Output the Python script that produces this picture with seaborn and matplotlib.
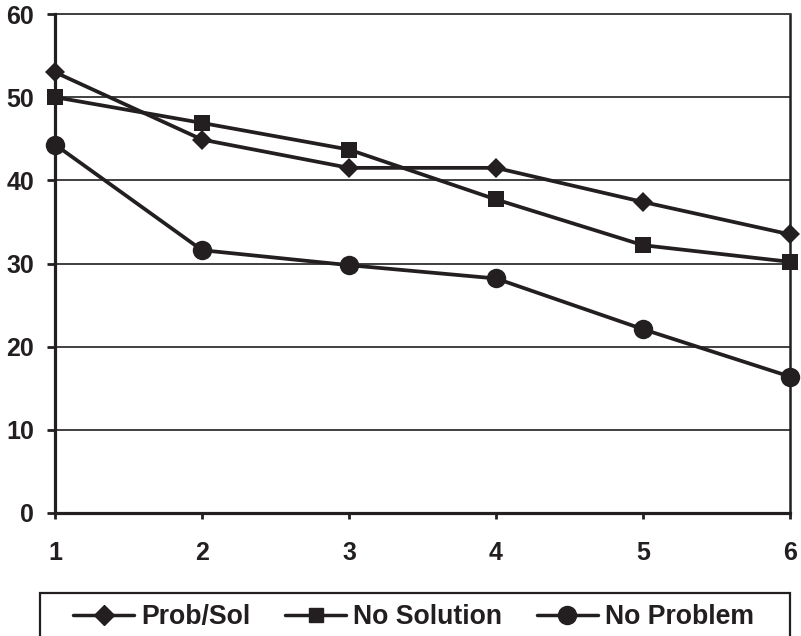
import matplotlib
matplotlib.use("Agg")
import matplotlib.pyplot as plt
import seaborn as sns
import pandas as pd
from matplotlib.lines import Line2D
from matplotlib.patches import Rectangle

sessions = [1, 2, 3, 4, 5, 6]
prob_sol = [53.0, 44.9, 41.5, 41.5, 37.4, 33.5]
no_solution = [50.0, 46.9, 43.7, 37.7, 32.2, 30.2]
no_problem = [44.3, 31.6, 29.8, 28.2, 22.1, 16.4]
series_names = ["Prob/Sol", "No Solution", "No Problem"]
y_ticks = [0, 10, 20, 30, 40, 50, 60]

ink = "#231f20"
grid_ink = "#404040"

df = pd.DataFrame({
    "session": sessions * 3,
    "value": prob_sol + no_solution + no_problem,
    "group": [series_names[0]] * 6 + [series_names[1]] * 6 + [series_names[2]] * 6,
})

sns.set_style("white")
plt.rcParams["font.family"] = ["Liberation Sans", "DejaVu Sans"]

W, H = 801, 636
fig = plt.figure(figsize=(W / 100, H / 100), dpi=100)
ax = fig.add_axes([55 / W, 1 - 513 / H, (790 - 55) / W, (513 - 14) / H])

sns.lineplot(
    data=df, x="session", y="value", hue="group", style="group",
    hue_order=series_names, style_order=series_names,
    palette=[ink, ink, ink],
    markers={"Prob/Sol": "D", "No Solution": "s", "No Problem": "o"},
    dashes=False, linewidth=2.7, markeredgewidth=0, ax=ax, legend=False,
)
for line, ms in zip(ax.get_lines(), [10.5, 11.5, 14]):
    line.set_markersize(ms)
    line.set_markeredgecolor(ink)
    line.set_clip_on(False)
    line.set_zorder(5)

ax.set_xlim(1, 6)
ax.set_ylim(0, 60)
ax.set_yticks(y_ticks)
ax.set_xticks(sessions)
ax.set_xlabel("")
ax.set_ylabel("")

ax.yaxis.grid(True, color=grid_ink, linewidth=1.4)
ax.set_axisbelow(True)
for side in ["left", "bottom"]:
    ax.spines[side].set_color(ink)
    ax.spines[side].set_linewidth(2.3)
    ax.spines[side].set_zorder(4)
ax.spines["right"].set_color(ink)
ax.spines["right"].set_linewidth(1.8)
ax.spines["top"].set_color(grid_ink)
ax.spines["top"].set_linewidth(1.4)

ax.tick_params(axis="y", direction="out", length=6, width=2, color=ink,
               left=True, pad=9)
ax.tick_params(axis="x", direction="out", length=4.5, width=2, color=ink,
               bottom=True, pad=16)
for lab in ax.get_xticklabels() + ax.get_yticklabels():
    lab.set_fontsize(18)
    lab.set_fontweight("bold")
    lab.set_color(ink)

# legend frame runs past the bottom edge of the figure
fig.patches.append(Rectangle((40 / W, -0.05), (790 - 40) / W, 0.05 + 1 - 593 / H,
                             transform=fig.transFigure, fill=False,
                             edgecolor=ink, linewidth=1.6))

handles = [
    Line2D([], [], color=ink, lw=2.5, marker="D", ms=10, mec=ink),
    Line2D([], [], color=ink, lw=2.5, marker="s", ms=10, mec=ink),
    Line2D([], [], color=ink, lw=2.5, marker="o", ms=13, mec=ink),
]
leg = fig.legend(
    handles, series_names, loc="center left",
    bbox_to_anchor=(73 / W, 1 - 617 / H), ncol=3,
    frameon=False, prop={"weight": "bold", "size": 19.2},
    handlelength=2.3, handletextpad=0.25, columnspacing=1.3,
    borderpad=0, borderaxespad=0,
)
for t in leg.get_texts():
    t.set_color(ink)

fig.savefig("out.png", dpi=100)
